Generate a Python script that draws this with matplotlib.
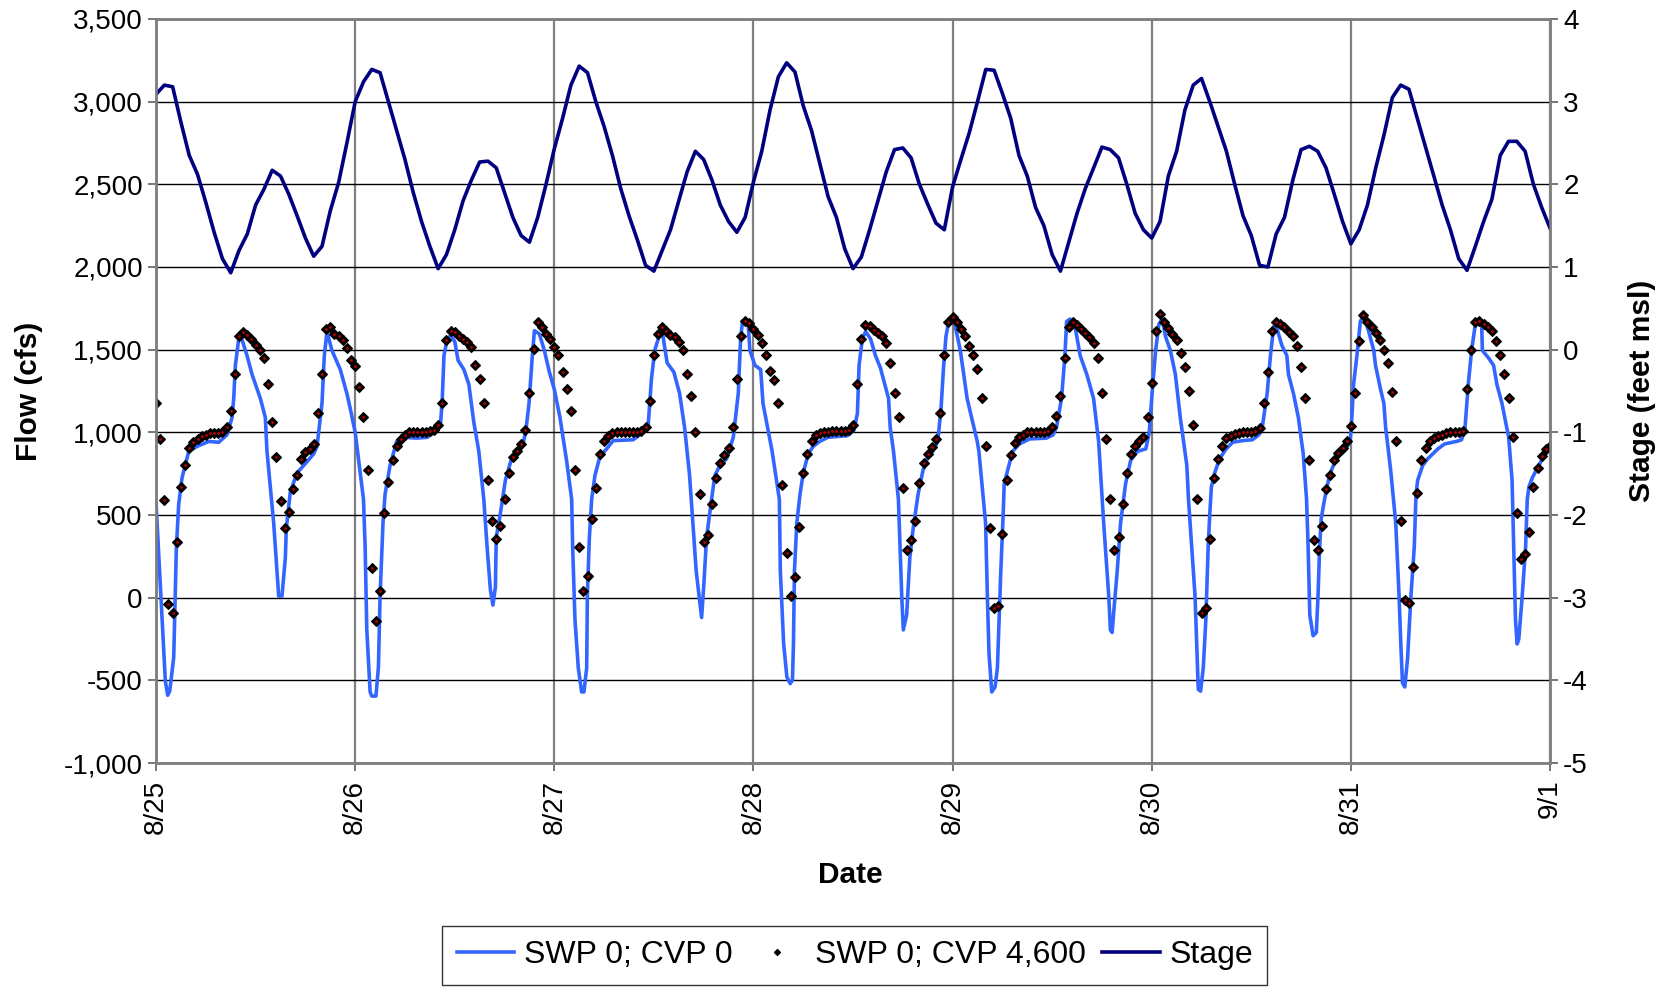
import matplotlib.pyplot as plt
from matplotlib.lines import Line2D
import numpy as np

plt.rcParams['font.family'] = ['Liberation Sans', 'DejaVu Sans']

#-----------------------------------------------------------------------------
# data (hours counted from 8/25 0:00)

day_labels = ['8/25', '8/26', '8/27', '8/28', '8/29', '8/30', '8/31', '9/1']

# stage, hourly (feet msl)
stage_ft = [
    3.09, 3.20, 3.18, 2.75, 2.35, 2.12, 1.78, 1.42, 1.10, 0.93, 1.20, 1.40,
    1.75, 1.94, 2.17, 2.10, 1.88, 1.62, 1.35, 1.13, 1.25, 1.68, 2.02, 2.50,
    3.00, 3.24, 3.39, 3.35, 3.00, 2.65, 2.30, 1.90, 1.55, 1.25, 0.98, 1.15,
    1.45, 1.80, 2.05, 2.27, 2.28, 2.20, 1.90, 1.60, 1.38, 1.30, 1.60, 2.00,
    2.43, 2.80, 3.20, 3.43, 3.35, 3.00, 2.70, 2.35, 1.95, 1.62, 1.33, 1.02,
    0.95, 1.20, 1.45, 1.80, 2.15, 2.40, 2.30, 2.05, 1.75, 1.55, 1.42, 1.60,
    2.03, 2.40, 2.90, 3.30, 3.47, 3.36, 2.95, 2.65, 2.25, 1.85, 1.60, 1.22,
    0.98, 1.12, 1.45, 1.80, 2.15, 2.42, 2.44, 2.32, 2.00, 1.76, 1.53, 1.45,
    1.97, 2.30, 2.62, 3.00, 3.39, 3.38, 3.10, 2.80, 2.35, 2.10, 1.72, 1.50,
    1.15, 0.95, 1.30, 1.65, 1.95, 2.20, 2.45, 2.42, 2.32, 2.00, 1.65, 1.45,
    1.35, 1.55, 2.10, 2.40, 2.90, 3.20, 3.28, 3.00, 2.70, 2.40, 2.00, 1.62,
    1.38, 1.02, 1.00, 1.40, 1.60, 2.05, 2.42, 2.46, 2.40, 2.20, 1.88, 1.55,
    1.28, 1.45, 1.75, 2.20, 2.60, 3.05, 3.20, 3.15, 2.80, 2.45, 2.10, 1.75,
    1.45, 1.10, 0.96, 1.25, 1.55, 1.82, 2.35, 2.52, 2.52, 2.40, 2.00, 1.72,
    1.47,
]

# SWP 0; CVP 0 (cfs), line vertices
swp0_cvp0_hours = [
    0.0, 1.12, 1.4, 1.65, 2.13, 2.45, 2.73, 3.13, 3.94, 4.94, 6.35, 7.55, 8.55,
    9.16, 9.36, 9.56, 9.96, 10.24, 10.96, 11.57, 12.57, 13.17, 13.37, 14.18,
    14.78, 15.18, 15.58, 15.7, 16.18, 17.0, 17.8, 19.0, 19.4, 20.0, 20.28,
    20.6, 21.2, 22.2, 23.0, 23.4,
    24.0, 25.0, 25.2, 25.4, 25.8, 26.0, 26.5, 26.8, 27.0, 27.35, 27.6, 28.2,
    29.0, 29.8, 31.45, 32.7, 33.5, 34.3, 34.5, 34.7, 35.1, 35.5, 36.0, 36.4,
    37.1, 37.7, 38.3, 38.9, 39.5, 39.9, 40.3, 40.6, 40.9, 41.0, 41.5, 42.1,
    42.75, 43.55, 44.15, 44.55, 44.95, 45.35, 45.6, 46.2, 46.8, 47.4,
    48.0, 48.68, 49.49, 50.09, 50.21, 50.49, 50.89, 51.29, 51.57, 51.9, 51.98,
    52.22, 52.5, 52.9, 53.5, 54.3, 55.1, 57.5, 58.3, 59.3, 59.7, 60.1, 60.7,
    61.1, 61.6, 62.4, 63.1, 63.7, 64.3, 64.7, 65.1, 65.75, 66.0, 66.35, 66.95,
    67.35, 67.96, 68.76, 69.57, 70.17, 70.45, 70.69, 71.37, 71.57, 72.18,
    72.87, 73.15, 74.25, 75.12, 75.24, 75.64, 76.03, 76.43, 76.7, 76.82,
    76.94, 77.22, 77.61, 78.0, 78.6, 79.2, 79.98, 80.97, 83.34, 84.13, 84.53,
    84.73, 85.12, 85.52, 86.11, 86.7, 87.3, 88.28, 88.48, 88.88, 89.47, 89.67,
    89.87, 90.06, 90.46, 90.85, 91.25, 91.84, 92.43, 93.03, 93.62, 94.21,
    94.61, 94.89, 95.2, 95.6,
    96.0, 96.33, 96.93, 97.75, 98.97, 99.17, 99.98, 100.19, 100.39, 100.72,
    101.12, 101.4, 101.6, 101.81, 102.1, 102.22, 102.63, 103.24, 104.05,
    105.27, 107.3, 108.11, 108.52, 109.13, 109.54, 109.74, 110.15, 110.76,
    111.37, 112.18, 112.99, 113.6, 114.21, 114.82, 115.02, 115.23, 115.43,
    115.84, 116.24, 116.85, 117.46, 118.28, 119.29, 119.7,
    120.08, 120.47, 120.87, 121.26, 121.66, 122.25, 122.85, 123.24, 123.44,
    124.23, 124.43, 124.82, 125.22, 125.42, 125.61, 125.89, 126.21, 126.52,
    126.8, 127.0, 127.19, 127.59, 128.18, 128.97, 129.76, 130.95, 132.13,
    132.92, 133.32, 133.91, 134.31, 134.7, 135.1, 135.69, 136.28, 136.48,
    137.08, 137.67, 138.26, 138.66, 138.85, 139.05, 139.45, 139.84, 140.04,
    140.24, 140.43, 140.83, 141.42, 142.02, 142.61, 143.2, 143.92,
    144.12, 144.33, 144.73, 145.14, 145.54, 146.15, 146.76, 146.97, 147.58,
    147.98, 148.19, 148.8, 149.41, 149.81, 150.02, 150.22, 150.5, 150.83,
    151.24, 151.64, 151.85, 152.05, 152.66, 153.27, 153.88, 154.49, 155.3,
    156.72, 157.33, 157.74, 158.15, 158.55, 158.96, 159.37, 159.77, 159.85,
    160.59, 161.2, 161.6, 162.21, 163.02, 163.43, 163.63, 163.84, 164.04,
    164.24, 164.65, 165.06, 165.26, 165.46, 165.87, 166.48, 167.09, 167.7,
    168.0,
]
swp0_cvp0_flow = [
    570, -505, -590, -565, -360, 305, 565, 725, 885, 915, 945, 940, 985,
    1090, 1205, 1405, 1565, 1580, 1465, 1350, 1205, 1090, 885, 450,
    10, 10, 240, 420, 640, 755, 800, 870, 915, 1175, 1465,
    1610, 1495, 1380, 1235, 1145,
    1000, 595, 305, -195, -570, -595, -595, -420, 10, 450, 625, 800,
    945, 970, 965, 970, 1000, 1060, 1205, 1465, 1565, 1585, 1550, 1435,
    1380, 1290, 1060, 885, 595, 305, 45, -45, 65, 365, 510, 710,
    825, 870, 915, 1000, 1175, 1465, 1615, 1595, 1495, 1365,
    1260, 1090, 825, 595, 305, -135, -425, -570, -570, -425, 10,
    360, 595, 740, 855, 900, 950, 955, 985, 1035, 1320, 1495, 1595,
    1580, 1420, 1365, 1235, 1030, 740, 450, 160, -120, 65, 365, 595,
    740, 800, 840, 970, 1235, 1565, 1675, 1650, 1495, 1405,
    1380, 1175, 885, 595, 160, -280, -480, -520, -500, -280,
    160, 450, 625, 755, 870, 915, 945, 970, 980, 1015, 1115,
    1405, 1565, 1610, 1565, 1465, 1390, 1205, 1030, 885, 595, 305,
    10, -195, -105, 245, 420, 625, 770, 855, 885, 945,
    1145, 1380, 1580, 1690,
    1700, 1640, 1495, 1205, 945, 885, 450, 10, -340, -570,
    -540, -425, -135, 160, 510, 690, 770, 885, 930,
    960, 965, 985, 1030, 1205, 1465, 1670, 1685, 1640,
    1465, 1350, 1205, 945, 450, 10, -195, -210, -80,
    160, 450, 690, 830, 885, 900, 1000,
    1260, 1495, 1655, 1685, 1580, 1495, 1350, 1175, 1090,
    800, 595, 305, 10, -280, -555, -565, -425, -135,
    305, 510, 670, 755, 840, 900, 940, 950, 955,
    985, 1030, 1235, 1465, 1640, 1625, 1525, 1465, 1350,
    1235, 1090, 870, 595, 305, -105, -230, -210, 10,
    305, 480, 595, 740, 815, 870, 885, 945,
    1090, 1290, 1465, 1670, 1710, 1610, 1495, 1405, 1260,
    1175, 1030, 770, 450, 10, -280, -515, -540, -370,
    10, 305, 625, 710, 800, 840, 870, 900, 930,
    945, 955, 1015, 1290, 1495, 1640, 1675, 1640, 1495,
    1450, 1405, 1290, 1175, 970, 710, 305, -135, -280,
    -250, 10, 305, 595, 670, 725, 785, 840, 885,
    900,
]

# SWP 0; CVP 4,600 (cfs), every half hour
swp0_cvp4600_flow = [
    1175, 960, 590, -40, -90, 335, 670, 800, 905, 940, 960, 980,
    985, 995, 995, 995, 1005, 1030, 1130, 1350, 1580, 1605, 1590, 1565,
    1530, 1500, 1450, 1290, 1060, 850, 585, 420, 520, 660, 740, 840,
    880, 900, 930, 1115, 1350, 1625, 1640, 1595, 1580, 1560, 1510, 1440,
    1400, 1275, 1090, 770, 180, -140, 40, 510, 700, 830, 920, 960,
    985, 1000, 1005, 1005, 1005, 1005, 1010, 1015, 1045, 1175, 1560, 1610,
    1605, 1580, 1565, 1545, 1515, 1405, 1320, 1175, 710, 465, 355, 435,
    595, 755, 850, 885, 930, 1015, 1235, 1505, 1665, 1635, 1595, 1565,
    1515, 1465, 1365, 1260, 1130, 770, 305, 40, 130, 475, 665, 870,
    945, 975, 995, 1000, 1005, 1005, 1005, 1005, 1005, 1010, 1035, 1190,
    1465, 1595, 1635, 1610, 1590, 1575, 1545, 1495, 1355, 1220, 1000, 625,
    335, 380, 565, 725, 815, 865, 905, 1035, 1320, 1580, 1675, 1660,
    1625, 1590, 1540, 1465, 1370, 1315, 1175, 680, 270, 10, 125, 430,
    755, 870, 950, 985, 995, 1000, 1005, 1010, 1010, 1010, 1010, 1015,
    1045, 1290, 1565, 1650, 1645, 1620, 1600, 1580, 1540, 1420, 1240, 1090,
    665, 290, 350, 465, 695, 815, 870, 910, 960, 1115, 1465, 1670,
    1700, 1670, 1625, 1580, 1525, 1465, 1385, 1205, 915, 420, -60, -50,
    385, 710, 860, 935, 970, 985, 1000, 1005, 1005, 1005, 1005, 1010,
    1035, 1100, 1220, 1450, 1640, 1670, 1650, 1625, 1600, 1575, 1540, 1450,
    1240, 960, 595, 290, 365, 565, 755, 870, 915, 945, 970, 1090,
    1300, 1610, 1715, 1670, 1630, 1595, 1560, 1480, 1395, 1250, 1045, 595,
    -95, -65, 355, 725, 840, 920, 965, 975, 990, 995, 1000, 1005,
    1005, 1010, 1025, 1175, 1365, 1610, 1670, 1655, 1635, 1605, 1580, 1525,
    1395, 1205, 830, 350, 290, 435, 660, 745, 830, 875, 905, 945,
    1040, 1235, 1550, 1710, 1670, 1635, 1600, 1560, 1500, 1420, 1245, 945,
    465, -15, -30, 185, 635, 830, 905, 945, 965, 980, 985, 995,
    1000, 1000, 1000, 1010, 1260, 1495, 1665, 1675, 1655, 1640, 1615, 1550,
    1465, 1350, 1205, 970, 510, 235, 265, 395, 670, 785, 855, 900,
    915,
]

flow_ticks = np.arange(-1000, 3501, 500)
stage_ticks = np.arange(-5, 5, 1)

#-----------------------------------------------------------------------------

stage_hours = np.arange(len(stage_ft))
dot_hours = np.arange(len(swp0_cvp4600_flow)) * 0.5

f = plt.figure(figsize=(16.69, 9.88), dpi=100)
a = f.add_axes([0.0935, 0.2277, 0.8352, 0.7531])
b = a.twinx()

# flow series
a.plot(swp0_cvp0_hours, swp0_cvp0_flow, color='#3366ff', lw=2.6, zorder=3)
a.plot(dot_hours, swp0_cvp4600_flow, ls='none', marker='D', ms=5.5,
       mfc='black', mec='black', mew=0.8, zorder=4)
a.plot(dot_hours, swp0_cvp4600_flow, ls='none', marker='o', ms=1.0,
       mfc='#c00000', mec='#c00000', zorder=5)

# stage
b.plot(stage_hours, stage_ft, color='#000080', lw=2.6)

a.set_xlim(0, 168)
a.set_ylim(-1000, 3500)
b.set_ylim(-5, 4)

a.set_xticks(np.arange(0, 169, 24))
a.set_xticklabels(day_labels, rotation=90, fontsize=20)
a.set_yticks(flow_ticks)
a.set_yticklabels(['{:,}'.format(v) for v in flow_ticks], fontsize=20)
b.set_yticks(stage_ticks)
b.set_yticklabels([str(v) for v in stage_ticks], fontsize=20)

a.tick_params(axis='both', direction='out', length=6, width=1.2, color='#606060')
a.tick_params(axis='x', pad=6)
b.tick_params(axis='y', direction='out', length=6, width=1.2, color='#606060')

# grid lines
a.grid(axis='y', color='black', lw=1.0)
a.grid(axis='x', color='#808080', lw=1.6)
a.set_axisbelow(True)

for ax in (a, b):
    for s in ax.spines.values():
        s.set_color('#808080')
        s.set_linewidth(1.8)

a.set_ylabel('Flow (cfs)', fontsize=21.5, fontweight='bold')
a.yaxis.set_label_coords(-0.081, 0.5)
b.set_ylabel('Stage (feet msl)', fontsize=21.5, fontweight='bold', rotation=90)
b.yaxis.set_label_coords(1.056, 0.5)
a.set_xlabel('Date', fontsize=21.5, fontweight='bold')
a.xaxis.set_label_coords(0.498, -0.132)

handles = [
    Line2D([], [], color='#3366ff', lw=2.6),
    Line2D([], [], ls='none', marker='D', ms=3, color='black'),
    Line2D([], [], color='#000080', lw=2.6),
]
labels = ['SWP 0; CVP 0', 'SWP 0; CVP 4,600', 'Stage']
leg = f.legend(handles, labels, loc='lower center', bbox_to_anchor=(0.5121, 0.0),
               ncol=3, frameon=True, fancybox=False, edgecolor='black',
               fontsize=23, handlelength=1.8, handletextpad=0.3,
               columnspacing=0.5, borderpad=0.45, borderaxespad=0.1)
leg.get_frame().set_linewidth(1.0)

f.savefig('out.png', dpi=100)
